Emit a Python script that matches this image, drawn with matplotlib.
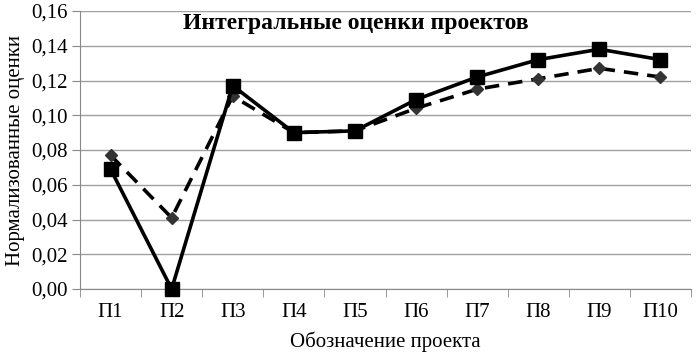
import numpy as np
import matplotlib.pyplot as plt

# data
projects = ['П1', 'П2', 'П3', 'П4', 'П5', 'П6', 'П7', 'П8', 'П9', 'П10']
solid_vals = [0.069, 0.000, 0.117, 0.090, 0.091, 0.109, 0.122, 0.132, 0.138, 0.132]
dashed_vals = [0.077, 0.041, 0.111, 0.090, 0.091, 0.104, 0.115, 0.121, 0.127, 0.122]
yticks = [0.00, 0.02, 0.04, 0.06, 0.08, 0.10, 0.12, 0.14, 0.16]

plt.rcParams['font.family'] = ['Liberation Serif', 'DejaVu Serif']

fig = plt.figure(figsize=(6.96, 3.58), dpi=100)
ax = fig.add_axes([80 / 696, 69 / 358, 611 / 696, 278 / 358])

x = np.arange(1, len(projects) + 1)

# dashed series with diamonds
ax.plot(x, dashed_vals, color='black', lw=2.6, dashes=(4, 2.5),
        marker='D', markersize=6, markerfacecolor='#333333',
        markeredgecolor='#333333', zorder=3, clip_on=False)
# solid series with squares
ax.plot(x, solid_vals, color='black', lw=2.6,
        marker='s', markersize=10, zorder=4, clip_on=False)

ax.set_xlim(0.5, len(projects) + 0.5)
ax.set_ylim(0, 0.16)
ax.set_yticks(yticks)
ax.set_yticklabels([('%.2f' % v).replace('.', ',') for v in yticks], fontsize=15)
ax.set_xticks(x)
ax.set_xticklabels(projects, fontsize=15)
ax.set_xticks(np.arange(0.5, len(projects) + 1), minor=True)
ax.tick_params(axis='x', which='major', length=0, pad=10)
ax.tick_params(axis='x', which='minor', length=6, color='#888888')
ax.tick_params(axis='y', length=6, color='#888888', pad=3)

ax.grid(axis='y', color='#a0a0a0', lw=1)
ax.set_axisbelow(True)
for s in ['top', 'right']:
    ax.spines[s].set_visible(False)
for s in ['left', 'bottom']:
    ax.spines[s].set_color('#888888')

ax.set_xlabel('Обозначение проекта', fontsize=15, labelpad=7)
ax.set_ylabel('Нормализованные оценки', fontsize=15, labelpad=4)
ax.text(0.452, 0.955, 'Интегральные оценки проектов', transform=ax.transAxes,
        ha='center', va='center', fontsize=17, fontweight='bold')

fig.savefig('out.png', dpi=100)
